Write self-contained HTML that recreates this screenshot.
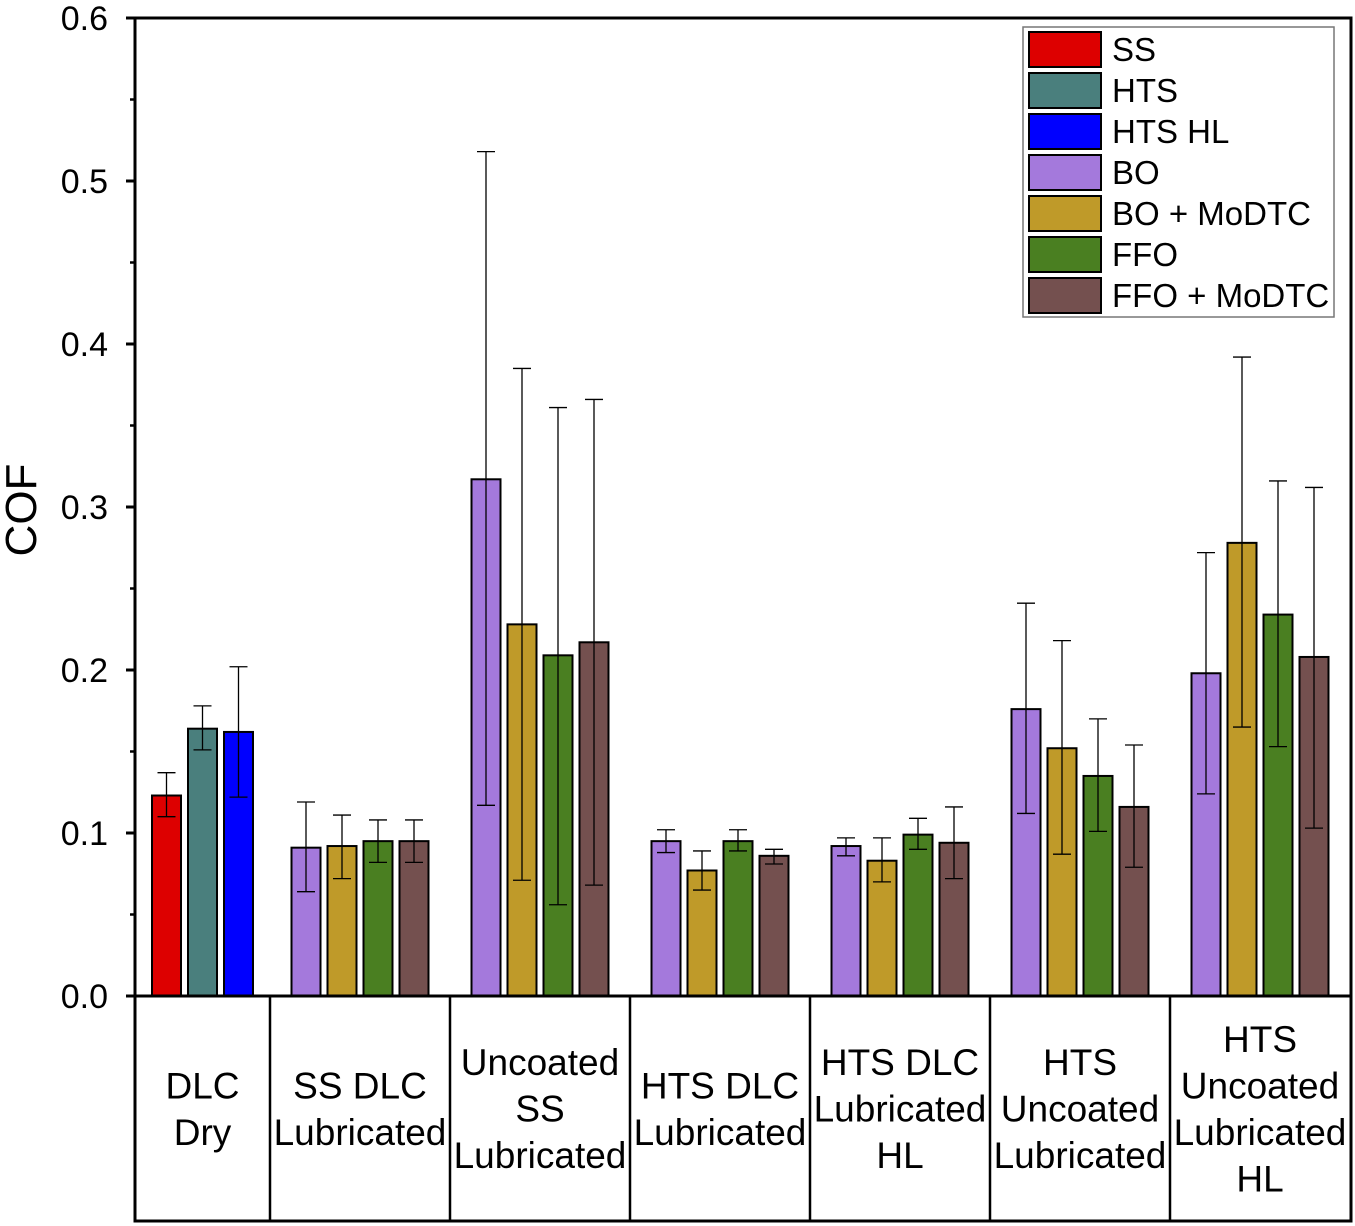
<!DOCTYPE html>
<html><head><meta charset="utf-8"><style>
body{margin:0;background:#fff}
svg{display:block;font-family:"Liberation Sans",Arial,sans-serif}
</style></head><body>
<svg id="c" width="1355" height="1226" viewBox="0 0 1355 1226"></svg>
<script>
const groups=[["DLC","Dry"],["SS DLC","Lubricated"],["Uncoated","SS","Lubricated"],["HTS DLC","Lubricated"],["HTS DLC","Lubricated","HL"],["HTS","Uncoated","Lubricated"],["HTS","Uncoated","Lubricated","HL"]];
const seriesNames=["SS","HTS","HTS HL","BO","BO + MoDTC","FFO","FFO + MoDTC"];
const seriesColors=["#dd0000","#4a7f7d","#0000ff","#a479dc","#bf9a29","#4a7f21","#74504f"];
const groupSeries=[[0,1,2],[3,4,5,6],[3,4,5,6],[3,4,5,6],[3,4,5,6],[3,4,5,6],[3,4,5,6]];
const values=[[0.123,0.164,0.162],[0.091,0.092,0.095,0.095],[0.317,0.228,0.209,0.217],[0.095,0.077,0.095,0.086],[0.092,0.083,0.099,0.094],[0.176,0.152,0.135,0.116],[0.198,0.278,0.234,0.208]];
const errLo=[[0.110,0.151,0.122],[0.064,0.072,0.082,0.082],[0.117,0.071,0.056,0.068],[0.088,0.065,0.089,0.081],[0.086,0.070,0.090,0.072],[0.112,0.087,0.101,0.079],[0.124,0.165,0.153,0.103]];
const errHi=[[0.137,0.178,0.202],[0.119,0.111,0.108,0.108],[0.518,0.385,0.361,0.366],[0.102,0.089,0.102,0.090],[0.097,0.097,0.109,0.116],[0.241,0.218,0.170,0.154],[0.272,0.392,0.316,0.312]];
const yTicks=[0,0.1,0.2,0.3,0.4,0.5,0.6];
const yTickLabels=["0.0","0.1","0.2","0.3","0.4","0.5","0.6"];

const svg=document.getElementById('c'),NS="http://www.w3.org/2000/svg";
const L=135,R=1351,T=18,B=996,TB=1221;
const y=v=>B-(v/0.6)*(B-T);
// group boundaries: first group is narrower (3 bars)
const bounds=[L,270,450,630,810,990,1170,1350];
const gx=i=>(bounds[i]+bounds[i+1])/2;
function el(t,a,p){const e=document.createElementNS(NS,t);for(const k in a)e.setAttribute(k,a[k]);(p||svg).appendChild(e);return e;}
const BW=29,STEP=36;
values.forEach((arr,gi)=>{
  const n=arr.length;
  arr.forEach((v,j)=>{
    const cx=gx(gi)+(j-(n-1)/2)*STEP;
    const s=groupSeries[gi][j];
    const r=el('rect',{x:cx-BW/2,y:y(v),width:BW,height:B-y(v),fill:seriesColors[s],stroke:'#000','stroke-width':2});
    
    
    const g=el('g',{stroke:'#000','stroke-width':1.3});
    
    
    el('line',{x1:cx,x2:cx,y1:y(errLo[gi][j]),y2:y(errHi[gi][j])},g);
    el('line',{x1:cx-9,x2:cx+9,y1:y(errLo[gi][j]),y2:y(errLo[gi][j])},g);
    el('line',{x1:cx-9,x2:cx+9,y1:y(errHi[gi][j]),y2:y(errHi[gi][j])},g);
  });
});
const fr=el('path',{d:`M${L} ${T}H${R}V${TB}H${L}Z M${L} ${B}H${R}`,fill:'none',stroke:'#000','stroke-width':3});


for(let i=1;i<groups.length;i++){const d=el('line',{x1:bounds[i],x2:bounds[i],y1:B,y2:TB,stroke:'#000','stroke-width':2.5});

}
yTicks.forEach((v,i)=>{
  el('line',{x1:L-9,x2:L,y1:y(v),y2:y(v),stroke:'#000','stroke-width':3});
  if(i<yTicks.length-1)el('line',{x1:L-5,x2:L,y1:y(v+0.05),y2:y(v+0.05),stroke:'#000','stroke-width':2.5});
  const t=el('text',{x:L-27,y:y(v)+12,'text-anchor':'end','font-size':34});
  t.textContent=yTickLabels[i];
  
  
});
const yt=el('text',{x:0,y:0,transform:'translate(36,510) rotate(-90)','text-anchor':'middle','font-size':44});
yt.textContent='COF';


groups.forEach((lines,gi)=>{
  const t=el('text',{'text-anchor':'middle','font-size':37});
  
  
  const cy=(B+TB)/2, lh=46.5, y0=cy-(lines.length-1)*lh/2+13;
  lines.forEach((s,k)=>{const ts=el('tspan',{x:gx(gi),y:y0+k*lh},t);ts.textContent=s;});
});
const lg=el('g',{});


el('rect',{x:1023,y:27,width:311,height:290,fill:'#fff',stroke:'#777','stroke-width':1.5},lg);
seriesNames.forEach((n,i)=>{
  const e=el('g',{},lg);
  
  
  el('rect',{x:1029,y:32+i*41,width:72,height:35,fill:seriesColors[i],stroke:'#000','stroke-width':2},e);
  const t=el('text',{x:1112,y:61+i*41,'font-size':33},e);t.textContent=n;
});
</script>
</body></html>
